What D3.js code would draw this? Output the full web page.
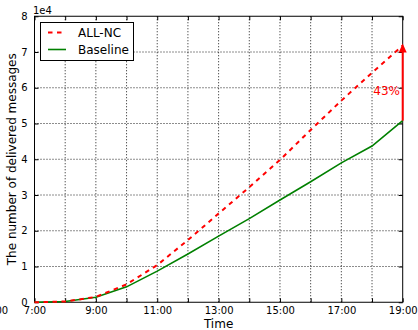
<!DOCTYPE html>
<html><head><meta charset="utf-8">
<script src="https://cdn.jsdelivr.net/npm/d3@7"></script>
<style>body{margin:0;background:#fff}svg{display:block}text{font-family:"DejaVu Sans",sans-serif}</style>
</head><body><svg id="c" width="418" height="330"></svg>
<script>
const hours = [7,8,9,10,11,12,13,14,15,16,17,18,19];
const allNC = [0,0.02,0.15,0.5,1.04,1.74,2.48,3.22,3.98,4.82,5.64,6.42,7.18];
const baseline = [0,0.02,0.14,0.43,0.87,1.35,1.85,2.34,2.86,3.37,3.9,4.37,5.08];
const xTickLabels = ["7:00","9:00","11:00","13:00","15:00","17:00","19:00"];
const yTicks = [0,1,2,3,4,5,6,7,8];
const seriesNames = ["ALL-NC","Baseline"];
const gainLabel = "43%";

const svg = d3.select("#c");
const L=34.5,R=402.7,T=16.25,B=302.25;
const x = d3.scaleLinear().domain([7,19]).range([L,R]);
const y = d3.scaleLinear().domain([0,8]).range([B,T]);

// grid
const g = svg.append("g");
g.selectAll(".gx").data(hours.slice(1,-1)).enter().append("line")
 .attr("x1",d=>x(d)).attr("x2",d=>x(d)).attr("y1",T).attr("y2",B)
 .attr("stroke","#000").attr("stroke-width",0.9).attr("stroke-dasharray","1,2");
g.selectAll(".gy").data(yTicks.slice(1,-1)).enter().append("line")
 .attr("y1",d=>y(d)).attr("y2",d=>y(d)).attr("x1",L).attr("x2",R)
 .attr("stroke","#000").attr("stroke-width",0.9).attr("stroke-dasharray","1,2");

// axes (inward ticks on all sides)
const axB = d3.axisBottom(x).tickValues(hours).tickSize(-4).tickFormat(d=>{const i=xTickLabels.indexOf(d+":00");return i>=0?xTickLabels[i]:"";}).tickPadding(5);
const axT = d3.axisTop(x).tickValues(hours).tickSize(-4).tickFormat("");
const axL = d3.axisLeft(y).tickValues(yTicks).tickSize(-4).tickFormat(d=>d).tickPadding(7);
const axR = d3.axisRight(y).tickValues(yTicks).tickSize(-4).tickFormat("");
function style(sel){sel.select(".domain").remove();sel.selectAll("line").attr("stroke","#000").attr("stroke-width",1);sel.selectAll("text").attr("font-size","10px").attr("fill","#000").attr("font-family","DejaVu Sans");}
svg.append("g").attr("transform",`translate(0,${B})`).call(axB).call(style);
svg.append("g").attr("transform",`translate(0,${T})`).call(axT).call(style);
svg.append("g").attr("transform",`translate(${L},0)`).call(axL).call(style);
svg.append("g").attr("transform",`translate(${R},0)`).call(axR).call(style);
svg.append("rect").attr("x",L).attr("y",T).attr("width",R-L).attr("height",B-T).attr("fill","none").attr("stroke","#000").attr("stroke-width",1);

// stray clipped label at left edge
svg.append("text").attr("x",-3).attr("y",314).attr("text-anchor","middle").attr("font-size","10px").text("7:00");

// offset text
svg.append("text").attr("x",33).attr("y",14).attr("font-size","10px").text("1e4");

// lines
const line = d3.line().x((d,i)=>x(hours[i])).y(d=>y(d));
svg.append("path").datum(baseline).attr("d",line).attr("fill","none").attr("stroke","#008000").attr("stroke-width",1.6);
svg.append("path").datum(allNC).attr("d",line).attr("fill","none").attr("stroke","#ff0000").attr("stroke-width",2).attr("stroke-dasharray","4.5,4.5");

// arrow
const ax = x(19), y0 = y(baseline[baseline.length-1]), y1 = y(allNC[allNC.length-1]);
svg.append("line").attr("x1",ax).attr("x2",ax).attr("y1",y0).attr("y2",y1+4).attr("stroke","#ff0000").attr("stroke-width",2);
svg.append("path").attr("d",`M${ax},${y1-2} L${ax-4},${y1+7} L${ax+4},${y1+7} Z`).attr("fill","#ff0000");
svg.append("text").attr("x",400).attr("y",(y0+y1)/2+12).attr("text-anchor","end").attr("font-size","12px").attr("fill","#ff0000").text(gainLabel);

// axis labels
svg.append("text").attr("x",(L+R)/2).attr("y",328).attr("text-anchor","middle").attr("font-size","12px").text("Time");
svg.append("text").attr("transform",`translate(16,${(T+B)/2}) rotate(-90)`).attr("text-anchor","middle").attr("font-size","12px").text("The number of delivered messages");

// legend
const lg = svg.append("g");
lg.append("rect").attr("x",40.5).attr("y",22.5).attr("width",93).attr("height",38).attr("fill","#fff").attr("stroke","#000").attr("stroke-width",1);
const colors=["#ff0000","#008000"], dashes=["4.5,4.5",null];
seriesNames.forEach((n,i)=>{
  const yy = 32.5 + i*17;
  lg.append("line").attr("x1",48).attr("x2",66).attr("y1",yy).attr("y2",yy).attr("stroke",colors[i]).attr("stroke-width",i?1.6:2).attr("stroke-dasharray",dashes[i]);
  lg.append("text").attr("x",78).attr("y",yy+4.5).attr("font-size","12px").text(n);
});
</script></body></html>
